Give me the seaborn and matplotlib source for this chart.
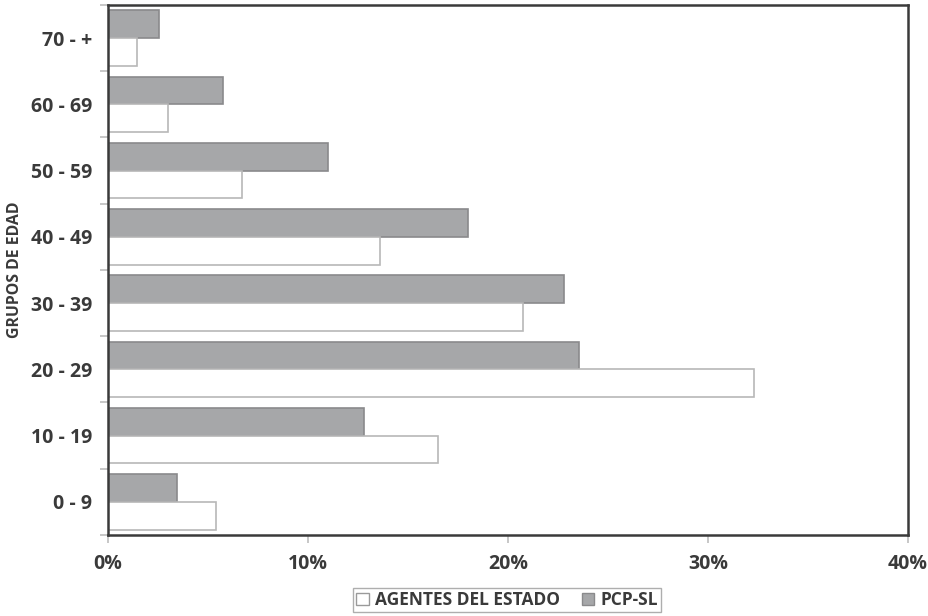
import pandas as pd
import matplotlib.pyplot as plt
import seaborn as sns
from matplotlib.patches import Patch

# ── DATA ────────────────────────────────────────────────────
grupos = ['70 - +', '60 - 69', '50 - 59', '40 - 49',
          '30 - 39', '20 - 29', '10 - 19', '0 - 9']
agentes = [1.45, 3.0, 6.7, 13.6, 20.75, 32.3, 16.5, 5.4]
pcp_sl  = [2.55, 5.75, 11.0, 18.0, 22.8, 23.55, 12.8, 3.45]
series  = ['PCP-SL', 'AGENTES DEL ESTADO']
x_ticks = [0, 10, 20, 30, 40]

df = pd.DataFrame({
    'grupo': grupos * 2,
    'serie': ['AGENTES DEL ESTADO'] * len(grupos) + ['PCP-SL'] * len(grupos),
    'pct'  : agentes + pcp_sl,
})

# ── STYLE ───────────────────────────────────────────────────
sns.set_style('white')
plt.rcParams['font.family'] = ['Open Sans', 'DejaVu Sans']
dark = '#3a3a3a'
gray_fill, gray_edge = '#a6a7a9', '#8a8a8c'
white_edge = '#b8b8b8'

fig = plt.figure(figsize=(9.29, 6.16), dpi=100)
ax = fig.add_axes([0.1163, 0.1315, 0.861, 0.8604])

sns.barplot(data=df, x='pct', y='grupo', hue='serie', order=grupos,
            hue_order=series, orient='h', width=0.84, ax=ax,
            palette={'PCP-SL': gray_fill, 'AGENTES DEL ESTADO': 'white'},
            legend=False, errorbar=None)

# edge colours per series
n = len(grupos)
for i, bar in enumerate(ax.patches[:2 * n]):
    if i < n:
        bar.set_edgecolor(gray_edge)
    else:
        bar.set_edgecolor(white_edge)
    bar.set_linewidth(1.2)

ax.set_xlim(0, 40)
ax.set_ylim(n - 0.5, -0.5)
ax.set_xticks(x_ticks)
ax.set_xticklabels([f'{t}%' for t in x_ticks])
ax.set_yticks(range(n))
ax.set_yticklabels(grupos)
ax.set_yticks([i - 0.5 for i in range(n + 1)], minor=True)

ax.tick_params(axis='y', which='major', length=0, pad=11.5,
               labelsize=14, labelcolor=dark)
ax.tick_params(axis='y', which='minor', left=True, length=6,
               width=1.2, color='#bdbdbd', direction='out')
ax.tick_params(axis='x', bottom=True, length=6, width=1.2,
               color='#bdbdbd', direction='out', pad=8,
               labelsize=14, labelcolor=dark)
for lbl in ax.get_xticklabels() + ax.get_yticklabels():
    lbl.set_fontweight('bold')

for side in ['left', 'bottom', 'top', 'right']:
    ax.spines[side].set_visible(True)
    ax.spines[side].set_color(dark)
    ax.spines[side].set_linewidth(1.8)

ax.set_xlabel('')
ax.set_ylabel('GRUPOS DE EDAD', fontsize=11.4, fontweight='bold',
              color=dark)
ax.yaxis.set_label_coords(-0.106, 0.5)

handles = [Patch(facecolor='white', edgecolor='#9a9a9a', label='AGENTES DEL ESTADO'),
           Patch(facecolor=gray_fill, edgecolor=gray_edge, label='PCP-SL')]
leg = fig.legend(handles=handles, loc='center', ncol=2,
                 bbox_to_anchor=(0.546, 0.026), frameon=True, fancybox=False,
                 edgecolor='#9a9a9a', fontsize=12.5, handlelength=0.7,
                 handleheight=0.7, handletextpad=0.35, columnspacing=1.3,
                 borderpad=0.2)
for t in leg.get_texts():
    t.set_fontweight('bold')
    t.set_color(dark)

plt.savefig('out.png', dpi=100)
